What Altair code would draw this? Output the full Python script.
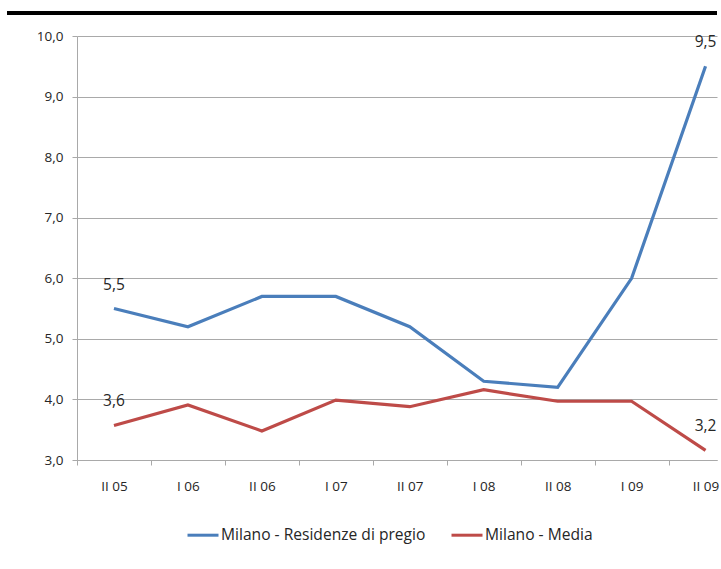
import altair as alt
import pandas as pd

# Half-yearly periods and the two Milan series
periods = ["II 05", "I 06", "II 06", "I 07", "II 07", "I 08", "II 08", "I 09", "II 09"]
pregio = [5.5, 5.2, 5.7, 5.7, 5.2, 4.3, 4.2, 6.0, 9.5]
media = [3.57, 3.91, 3.48, 3.99, 3.88, 4.16, 3.97, 3.97, 3.16]
series_names = ["Milano - Residenze di pregio", "Milano - Media"]
series_colors = ["#4a7ebb", "#be4b48"]
y_ticks = [3, 4, 5, 6, 7, 8, 9, 10]

rows = []
for name, vals in zip(series_names, [pregio, media]):
    for i, v in enumerate(vals):
        rows.append({"serie": name, "idx": i, "periodo": periods[i], "valore": v})
df = pd.DataFrame(rows)

FONT = "Open Sans"
TEXT = "#262626"
GRID = "#a9a9a9"

W, H = 640, 424
band = W / 8.655  # width of one period slot
x_domain = [-0.5, 8.155]

label_list = "[" + ",".join("'" + p + "'" for p in periods) + "]"
x_label_expr = label_list + "[round(datum.value + 0.5)]"
comma_expr = "replace(format(datum.value, '.1f'), '.', ',')"

x_enc = alt.X(
    "idx:Q",
    scale=alt.Scale(domain=x_domain, nice=False, zero=False),
    axis=alt.Axis(
        title=None,
        values=[i - 0.5 for i in range(len(periods))],
        labelExpr=x_label_expr,
        labelOffset=band / 2,
        labelFlush=False,
        labelOverlap=False,
        grid=False,
        domainColor=GRID,
        tickColor=GRID,
        tickSize=5,
        labelPadding=14,
        labelFont=FONT,
        labelFontSize=13.5,
        labelColor=TEXT,
    ),
)

y_enc = alt.Y(
    "valore:Q",
    scale=alt.Scale(domain=[3, 10], nice=False, zero=False),
    axis=alt.Axis(
        title=None,
        values=y_ticks,
        labelExpr=comma_expr,
        grid=True,
        gridColor=GRID,
        domainColor=GRID,
        tickColor=GRID,
        tickSize=5,
        labelPadding=9,
        labelFont=FONT,
        labelFontSize=13.5,
        labelColor=TEXT,
    ),
)

color_enc = alt.Color(
    "serie:N",
    scale=alt.Scale(domain=series_names, range=series_colors),
    legend=alt.Legend(
        title=None,
        orient="none",
        direction="horizontal",
        legendX=109,
        legendY=482,
        symbolType="stroke",
        symbolSize=961,
        symbolStrokeWidth=3,
        labelOffset=1,
        labelLimit=0,
        columnPadding=19,
        padding=0,
        labelFont=FONT,
        labelFontSize=15.6,
        labelColor=TEXT,
    ),
)

lines = alt.Chart(df).mark_line(strokeWidth=3.2).encode(
    x=x_enc, y=y_enc, color=color_enc, order="idx:Q"
)

# Value labels on the first and last period of each series
labels = (
    alt.Chart(df)
    .transform_filter(f"datum.idx == 0 || datum.idx == {len(periods) - 1}")
    .transform_calculate(testo="replace(format(datum.valore, '.1f'), '.', ',')")
    .mark_text(baseline="bottom", align="center", dy=-16, font=FONT, fontSize=15.5, color=TEXT)
    .encode(x="idx:Q", y="valore:Q", text="testo:N")
)

# Heavy black rule across the top of the page
top_rule = alt.Chart(df).mark_rule(color="black", strokeWidth=3).encode(
    x=alt.value(-70), x2=alt.value(W), y=alt.value(-23)
)

chart = (
    alt.layer(lines, labels, top_rule)
    .properties(
        width=W,
        height=H,
        autosize=alt.AutoSizeParams(type="none"),
        padding={"left": 77, "top": 36, "right": 4, "bottom": 109},
        background="white",
    )
    .configure_view(strokeWidth=0)
)

chart.save("out.html", embed_options={"renderer": "svg", "actions": False})
